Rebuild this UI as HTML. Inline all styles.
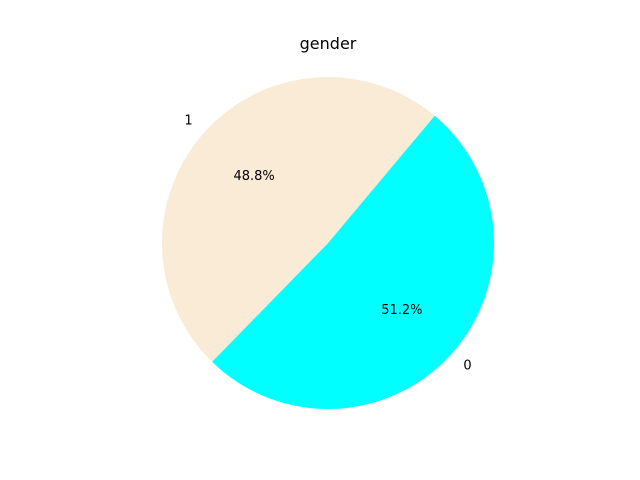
<!DOCTYPE html>
<html><head><meta charset="utf-8"><style>
body{margin:0;background:#fff;}
svg{display:block;font-family:"DejaVu Sans","Liberation Sans",sans-serif;}
</style></head><body>
<svg id="chart" width="640" height="480">
<rect width="640" height="480" fill="#fff"/>
<text x="328" y="49" text-anchor="middle" font-size="16">gender</text>
</svg>
<script>
const categories = ["0", "1"];
const values = [51.2, 48.8];
const colors = ["#00FFFF", "#FAEBD7"];
const startAngle = -134.3;
const cx = 328, cy = 243, r = 166;
const ns = "http://www.w3.org/2000/svg";
const svg = document.getElementById("chart");
const total = values.reduce((a, b) => a + b, 0);
function pt(deg, rad) { const a = deg * Math.PI / 180; return [cx + rad * Math.cos(a), cy - rad * Math.sin(a)]; }
let ang = startAngle;
values.forEach((v, i) => {
  const sweep = v / total * 360;
  const a0 = ang, a1 = ang + sweep;
  const [x0, y0] = pt(a0, r), [x1, y1] = pt(a1, r);
  const p = document.createElementNS(ns, "path");
  p.setAttribute("d", `M${cx},${cy} L${x0},${y0} A${r},${r} 0 ${sweep > 180 ? 1 : 0} 0 ${x1},${y1} Z`);
  p.setAttribute("fill", colors[i]);
  
  
  svg.appendChild(p);
  const mid = a0 + sweep / 2;
  const [lx, ly] = pt(mid, r * 1.1);
  const t = document.createElementNS(ns, "text");
  t.setAttribute("x", lx); t.setAttribute("y", ly + 4);
  t.setAttribute("font-size", "13");
  t.setAttribute("text-anchor", Math.cos(mid * Math.PI / 180) >= 0 ? "start" : "end");
  t.textContent = categories[i];
  
  
  svg.appendChild(t);
  const [px, py] = pt(mid, r * 0.6);
  const tp = document.createElementNS(ns, "text");
  tp.setAttribute("x", px); tp.setAttribute("y", py + 4);
  tp.setAttribute("font-size", "13");
  tp.setAttribute("text-anchor", "middle");
  tp.textContent = (v / total * 100).toFixed(1) + "%";
  
  
  svg.appendChild(tp);
  ang = a1;
});
</script>
</body></html>
